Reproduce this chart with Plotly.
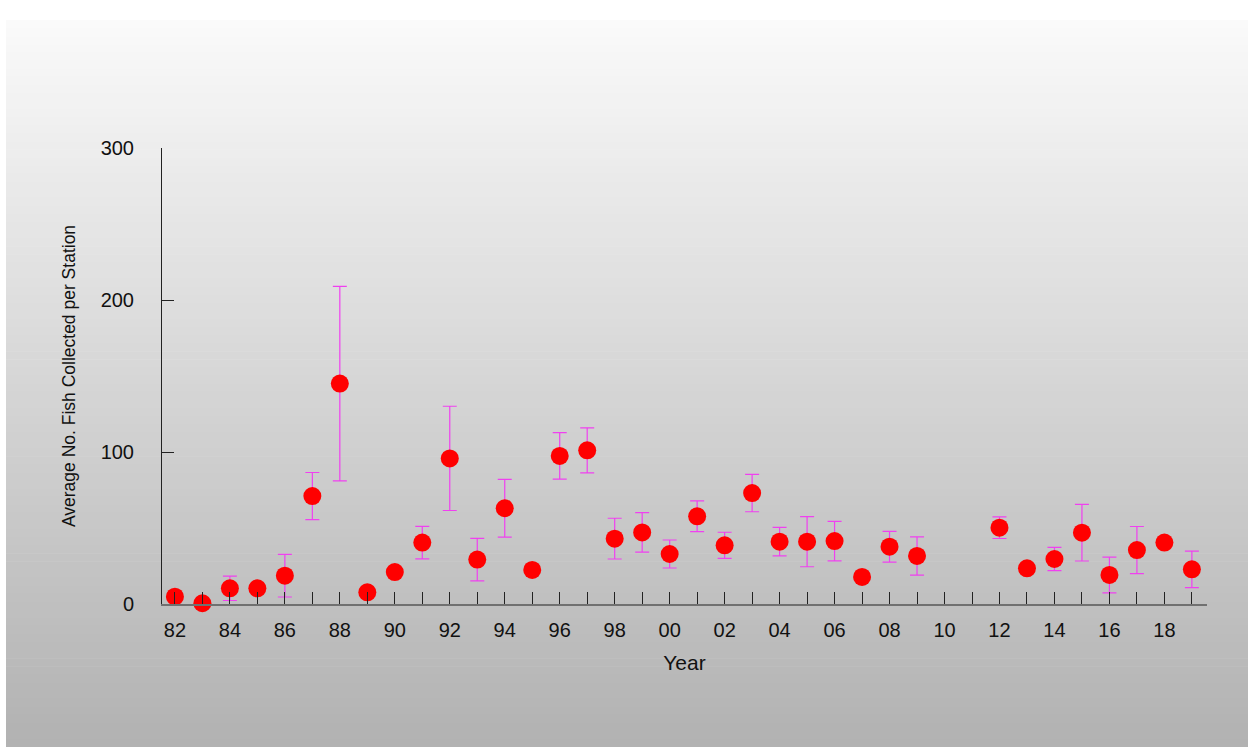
import plotly.graph_objects as go

years = list(range(1982, 2020))
# mean values (None = no sample)
means = [4.8, 0.5, 10.3, 10.3, 18.6, 71.0, 145.0, 7.7, 21.0, 40.4,
         95.8, 29.2, 63.0, 22.4, 97.4, 101.1, 43.0, 47.1, 32.9, 57.7,
         38.6, 73.0, 41.0, 41.0, 41.4, 17.8, 37.7, 31.6, None, None,
         50.2, 23.5, 29.6, 46.9, 19.1, 35.5, 40.4, 22.8]
errors = [0, 0, 8.0, 0, 14.0, 15.5, 64.0, 0, 0, 10.7,
          34.3, 14.0, 19.0, 0, 15.3, 14.8, 13.4, 13.0, 9.2, 10.1,
          8.6, 12.3, 9.4, 16.5, 13.0, 0, 10.1, 12.6, 0, 0,
          7.1, 0, 7.7, 18.6, 11.8, 15.5, 0, 12.0]
tick_vals = years
tick_text = [f"{y % 100:02d}" if y % 2 == 0 else "" for y in years]
y_ticks = [0, 100, 200, 300]

W, H = 1251, 747
L, R, T, B = 162, 44, 148, 143
pw, ph = W - L - R, H - T - B

def px_to_paper_x(px):
    return (px - L) / pw

def px_to_paper_y(py):
    return (H - B - py) / ph

shapes = []
top, bot = 20, 747
n = 90
step = (bot - top) / n
for i in range(n):
    y0 = top + i * step
    y1 = y0 + step + 0.6
    c = int(round(250 - 0.1 * (y0 + step / 2 - 20)))
    shapes.append(dict(type="rect", xref="paper", yref="paper",
                       x0=px_to_paper_x(6), x1=px_to_paper_x(1248),
                       y0=px_to_paper_y(min(y1, bot)), y1=px_to_paper_y(y0),
                       fillcolor=f"rgb({c},{c},{c})", line=dict(width=0),
                       layer="below"))

fig = go.Figure()
fig.add_trace(go.Scatter(
    x=years, y=means, mode="markers",
    marker=dict(color="#ff0000", size=18, line=dict(width=0)),
    error_y=dict(type="data", array=errors, visible=True,
                 color="#f040f0", thickness=1.2, width=7),
    cliponaxis=False, showlegend=False,
))

fig.update_layout(
    width=W, height=H,
    margin=dict(l=L, r=R, t=T, b=B),
    paper_bgcolor="white",
    plot_bgcolor="rgba(0,0,0,0)",
    shapes=shapes,
    font=dict(family="Liberation Sans, Arial, sans-serif", color="#111"),
    xaxis=dict(
        range=[1981.53, 2019.55], tickmode="array",
        tickvals=tick_vals, ticktext=tick_text,
        ticks="inside", ticklen=12, tickwidth=1, tickcolor="#222",
        showline=True, linecolor="#707070", linewidth=2,
        showgrid=False, zeroline=False,
        tickfont=dict(size=20, color="#111"),
        ticklabelstandoff=7,
        title=dict(text="Year", font=dict(size=21, color="#111"), standoff=15),
    ),
    yaxis=dict(
        range=[0, 300], tickmode="array", tickvals=y_ticks,
        ticks="inside", ticklen=12, tickwidth=1, tickcolor="#222",
        showline=True, linecolor="#222", linewidth=1,
        showgrid=False, zeroline=False,
        tickfont=dict(size=20, color="#111"),
        ticklabelstandoff=23,
        title=dict(text="Average No. Fish Collected per Station",
                   font=dict(size=17.5, color="#111"), standoff=20),
    ),
)

fig.write_html("out.html", config={"displayModeBar": False},
               post_script="document.body.style.margin='0';")
